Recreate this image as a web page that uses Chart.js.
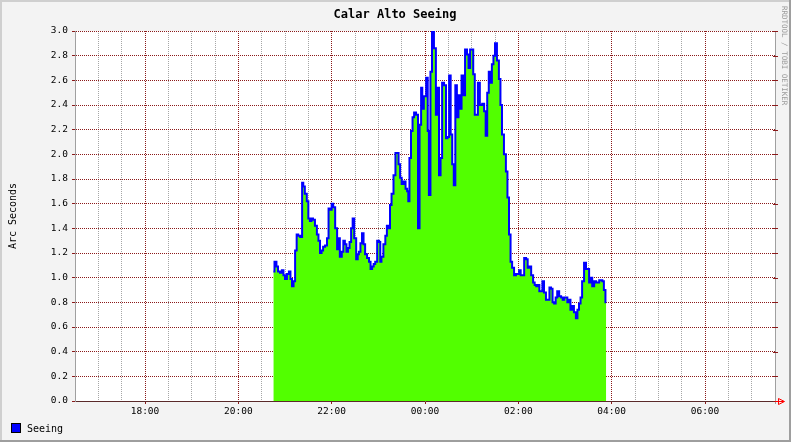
<!DOCTYPE html>
<html>
<head>
<meta charset="utf-8">
<title>Calar Alto Seeing</title>
<script src="https://cdn.jsdelivr.net/npm/chart.js@4.4.0/dist/chart.umd.min.js"></script>
<style>
  html, body { margin: 0; padding: 0; background: #f3f3f3; }
  canvas { display: block; }
</style>
</head>
<body>
<canvas id="seeingChart" width="791" height="442"></canvas>
<script>
// seeing samples (times after midnight belong to the next day)
var times = [
  "20:45", "20:48", "20:50", "20:52", "20:55", "20:57", "20:59", "21:01", "21:04", "21:06",
  "21:08", "21:10", "21:12", "21:14", "21:16", "21:18", "21:21", "21:23", "21:24", "21:27",
  "21:29", "21:31", "21:33", "21:35", "21:37", "21:40", "21:42", "21:44", "21:46", "21:48",
  "21:50", "21:53", "21:55", "21:57", "21:59", "22:01", "22:03", "22:06", "22:08", "22:09",
  "22:12", "22:14", "22:16", "22:18", "22:20", "22:22", "22:24", "22:26", "22:28", "22:30",
  "22:33", "22:34", "22:36", "22:38", "22:40", "22:42", "22:44", "22:47", "22:49", "22:51",
  "22:53", "22:55", "22:57", "23:00", "23:02", "23:03", "23:05", "23:08", "23:10", "23:12",
  "23:14", "23:16", "23:18", "23:21", "23:23", "23:25", "23:27", "23:29", "23:31", "23:34",
  "23:36", "23:38", "23:39", "23:41", "23:43", "23:45", "23:47", "23:50", "23:52", "23:54",
  "23:56", "23:57", "00:00", "00:03", "00:04", "00:06", "00:08", "00:10", "00:13", "00:15",
  "00:17", "00:19", "00:21", "00:23", "00:26", "00:28", "00:30", "00:32", "00:34", "00:36",
  "00:38", "00:40", "00:42", "00:44", "00:46", "00:48", "00:50", "00:53", "00:55", "00:57",
  "00:59", "01:01", "01:03", "01:05", "01:07", "01:09", "01:12", "01:15", "01:17", "01:19",
  "01:21", "01:23", "01:25", "01:27", "01:29", "01:31", "01:34", "01:36", "01:38", "01:40",
  "01:43", "01:45", "01:47", "01:49", "01:51", "01:53", "01:56", "01:58", "02:00", "02:02",
  "02:04", "02:06", "02:09", "02:11", "02:13", "02:15", "02:18", "02:20", "02:22", "02:24",
  "02:26", "02:28", "02:30", "02:32", "02:34", "02:37", "02:39", "02:41", "02:43", "02:45",
  "02:47", "02:49", "02:51", "02:54", "02:56", "02:58", "03:00", "03:02", "03:04", "03:06",
  "03:08", "03:10", "03:13", "03:15", "03:17", "03:19", "03:21", "03:23", "03:26", "03:28",
  "03:30", "03:32", "03:34", "03:36", "03:39", "03:41", "03:43", "03:45", "03:47", "03:49",
  "03:51", "03:53"
];
var seeing = [
  1.05, 1.13, 1.09, 1.05, 1.04, 1.06, 1.02, 0.99, 1.03, 1.05,
  0.99, 0.93, 0.97, 1.22, 1.35, 1.34, 1.33, 1.77, 1.74, 1.68,
  1.62, 1.48, 1.46, 1.48, 1.47, 1.42, 1.35, 1.30, 1.20, 1.22,
  1.25, 1.26, 1.32, 1.56, 1.55, 1.60, 1.57, 1.40, 1.23, 1.32,
  1.17, 1.21, 1.30, 1.27, 1.21, 1.24, 1.29, 1.40, 1.48, 1.32,
  1.15, 1.19, 1.21, 1.28, 1.36, 1.27, 1.19, 1.16, 1.13, 1.07,
  1.09, 1.11, 1.13, 1.30, 1.29, 1.13, 1.17, 1.27, 1.34, 1.42,
  1.40, 1.59, 1.68, 1.83, 2.01, 2.01, 1.92, 1.81, 1.76, 1.78,
  1.72, 1.70, 1.62, 1.97, 2.19, 2.30, 2.34, 2.32, 1.40, 2.24,
  2.54, 2.37, 2.47, 2.62, 2.19, 1.67, 2.67, 3.00, 2.86, 2.32,
  2.54, 1.83, 1.97, 2.58, 2.56, 2.13, 2.14, 2.64, 2.16, 1.92,
  1.75, 2.56, 2.30, 2.48, 2.37, 2.64, 2.48, 2.85, 2.81, 2.70,
  2.85, 2.85, 2.65, 2.32, 2.32, 2.58, 2.40, 2.41, 2.35, 2.15,
  2.50, 2.67, 2.58, 2.73, 2.80, 2.90, 2.76, 2.61, 2.40, 2.16,
  2.00, 1.86, 1.65, 1.35, 1.13, 1.08, 1.02, 1.03, 1.03, 1.06,
  1.02, 1.02, 1.16, 1.15, 1.08, 1.09, 1.02, 0.96, 0.94, 0.93,
  0.94, 0.89, 0.89, 0.97, 0.88, 0.82, 0.82, 0.92, 0.91, 0.80,
  0.79, 0.84, 0.89, 0.85, 0.84, 0.82, 0.84, 0.84, 0.80, 0.82,
  0.74, 0.77, 0.72, 0.67, 0.74, 0.79, 0.84, 0.97, 1.12, 1.07,
  1.07, 0.96, 1.00, 0.93, 0.97, 0.96, 0.96, 0.98, 0.98, 0.97,
  0.90, 0.80
];
var timeStart = "16:30";
var timeEnd = "07:30";
var hourLabels = ["18:00", "20:00", "22:00", "00:00", "02:00", "04:00", "06:00"];
var yLabels = ["0.0", "0.2", "0.4", "0.6", "0.8", "1.0", "1.2", "1.4", "1.6", "1.8",
  "2.0", "2.2", "2.4", "2.6", "2.8", "3.0"];

var MONO = "'DejaVu Sans Mono', 'Liberation Mono', monospace";
var MINOR = "#a6a6a6";
var MAJOR = "#8b1a1a";

// minutes since midnight, early morning hours roll over to the next day
function toMinutes(t) {
  var p = t.split(":");
  var h = parseInt(p[0], 10);
  var m = parseInt(p[1], 10);
  if (h < 12) h += 24;
  return h * 60 + m;
}
function fmtMinutes(v) {
  var h = Math.floor(v / 60) % 24;
  var m = v % 60;
  return (h < 10 ? "0" : "") + h + ":" + (m < 10 ? "0" : "") + m;
}

var points = times.map(function (t, i) {
  return { x: toMinutes(t), y: seeing[i] };
});
var xMin = toMinutes(timeStart);
var xMax = toMinutes(timeEnd);

function isMajorY(v) {
  return yLabels.indexOf(v.toFixed(1)) !== -1;
}
function isMajorX(v) {
  return hourLabels.indexOf(fmtMinutes(v)) !== -1;
}

var rrdFrame = {
  id: "rrdFrame",
  beforeDraw: function (chart) {
    var c = chart.ctx, a = chart.chartArea, w = chart.width, h = chart.height;
    c.save();
    c.fillStyle = "#f3f3f3";
    c.fillRect(0, 0, w, h);
    c.fillStyle = "#cfcfcf";
    c.fillRect(0, 0, w, 2);
    c.fillRect(0, 0, 2, h);
    c.fillStyle = "#9e9e9e";
    c.fillRect(0, h - 2, w, 2);
    c.fillRect(w - 2, 0, 2, h);
    c.fillStyle = "#ffffff";
    c.fillRect(a.left, a.top, a.right - a.left, a.bottom - a.top);
    c.restore();
  },
  afterDraw: function (chart) {
    var c = chart.ctx, a = chart.chartArea;
    var ys = chart.scales.y;
    c.save();

    // right hand axis and its tick marks
    c.strokeStyle = "#a0a0a0";
    c.lineWidth = 1;
    c.beginPath();
    c.moveTo(a.right + 0.5, a.top);
    c.lineTo(a.right + 0.5, a.bottom + 3);
    c.stroke();
    c.strokeStyle = MAJOR;
    yLabels.forEach(function (lbl) {
      var y = Math.round(ys.getPixelForValue(parseFloat(lbl))) + 0.5;
      c.beginPath();
      c.moveTo(a.right - 2, y);
      c.lineTo(a.right + 3, y);
      c.stroke();
    });

    // arrow at the end of the time axis
    var ay = a.bottom + 0.5;
    c.strokeStyle = "#ff0000";
    c.beginPath();
    c.moveTo(a.right, ay);
    c.lineTo(a.right + 9, ay);
    c.moveTo(a.right + 3.5, ay - 3);
    c.lineTo(a.right + 3.5, ay + 3);
    c.lineTo(a.right + 9.5, ay);
    c.closePath();
    c.stroke();

    c.fillStyle = "#000000";
    // title
    c.font = "bold 12px " + MONO;
    c.textAlign = "center";
    c.textBaseline = "middle";
    c.fillText("Calar Alto Seeing", 395, 15);

    // vertical axis title
    c.font = "10px " + MONO;
    c.save();
    c.translate(13, 216);
    c.rotate(-Math.PI / 2);
    c.fillText("Arc Seconds", 0, 0);
    c.restore();

    // watermark on the right edge
    c.save();
    c.fillStyle = "#9a9a9a";
    c.font = "7.5px " + MONO;
    c.translate(784, 6);
    c.rotate(Math.PI / 2);
    c.textAlign = "left";
    c.fillText("RRDTOOL / TOBI OETIKER", 0, 0);
    c.restore();

    // legend
    c.fillStyle = "#0000ff";
    c.fillRect(12, 424, 8, 8);
    c.strokeStyle = "#000000";
    c.strokeRect(11.5, 423.5, 9, 9);
    c.fillStyle = "#000000";
    c.font = "10px " + MONO;
    c.textAlign = "left";
    c.fillText("Seeing", 27, 429);
    c.restore();
  }
};

var ctxSeeing = document.getElementById("seeingChart").getContext("2d");
var seeingChart = new Chart(ctxSeeing, {
  type: "line",
  data: {
    datasets: [
      {
        label: "Seeing",
        data: points,
        stepped: "middle",
        borderColor: "#0000ff",
        borderWidth: 2,
        backgroundColor: "#52ff00",
        fill: "origin",
        pointRadius: 0,
      },
    ],
  },
  options: {
    responsive: false,
    animation: false,
    devicePixelRatio: 1,
    layout: { padding: { left: 0, right: 16, top: 31, bottom: 0 } },
    plugins: {
      legend: { display: false },
      title: { display: false },
      tooltip: { enabled: false },
    },
    scales: {
      x: {
        type: "linear",
        min: xMin,
        max: xMax,
        z: 1,
        afterFit: function (scale) {
          scale.height = 41;
        },
        border: { display: true, color: "#5a2a2a", width: 1, dash: [1, 1] },
        grid: {
          color: function (ctx) {
            var v = ctx.tick.value;
            if (v === xMin || v === xMax) return "rgba(0,0,0,0)";
            return isMajorX(v) ? MAJOR : MINOR;
          },
          tickColor: function (ctx) {
            return isMajorX(ctx.tick.value) ? MAJOR : "rgba(0,0,0,0)";
          },
          tickLength: 3,
          tickBorderDash: [],
        },
        ticks: {
          stepSize: 30,
          maxTicksLimit: 1000,
          autoSkip: false,
          maxRotation: 0,
          padding: 2,
          color: "#000000",
          font: { family: MONO, size: 9.5 },
          callback: function (v) {
            return isMajorX(v) ? fmtMinutes(v) : "";
          },
        },
      },
      y: {
        min: 0,
        max: 3,
        z: 1,
        afterFit: function (scale) {
          scale.width = 75;
        },
        border: { display: true, color: "#a0a0a0", width: 1, dash: [1, 1] },
        grid: {
          color: function (ctx) {
            var v = ctx.tick.value;
            if (Math.abs(v) < 1e-6) return "rgba(0,0,0,0)";
            return isMajorY(v) ? MAJOR : MINOR;
          },
          tickColor: function (ctx) {
            return isMajorY(ctx.tick.value) ? MAJOR : "rgba(0,0,0,0)";
          },
          tickLength: 3,
          tickBorderDash: [],
        },
        ticks: {
          stepSize: 0.1,
          maxTicksLimit: 1000,
          padding: 4,
          color: "#000000",
          font: { family: MONO, size: 9.5 },
          callback: function (v) {
            return isMajorY(v) ? v.toFixed(1) : "";
          },
        },
      },
    },
  },
  plugins: [rrdFrame],
});
</script>
</body>
</html>
